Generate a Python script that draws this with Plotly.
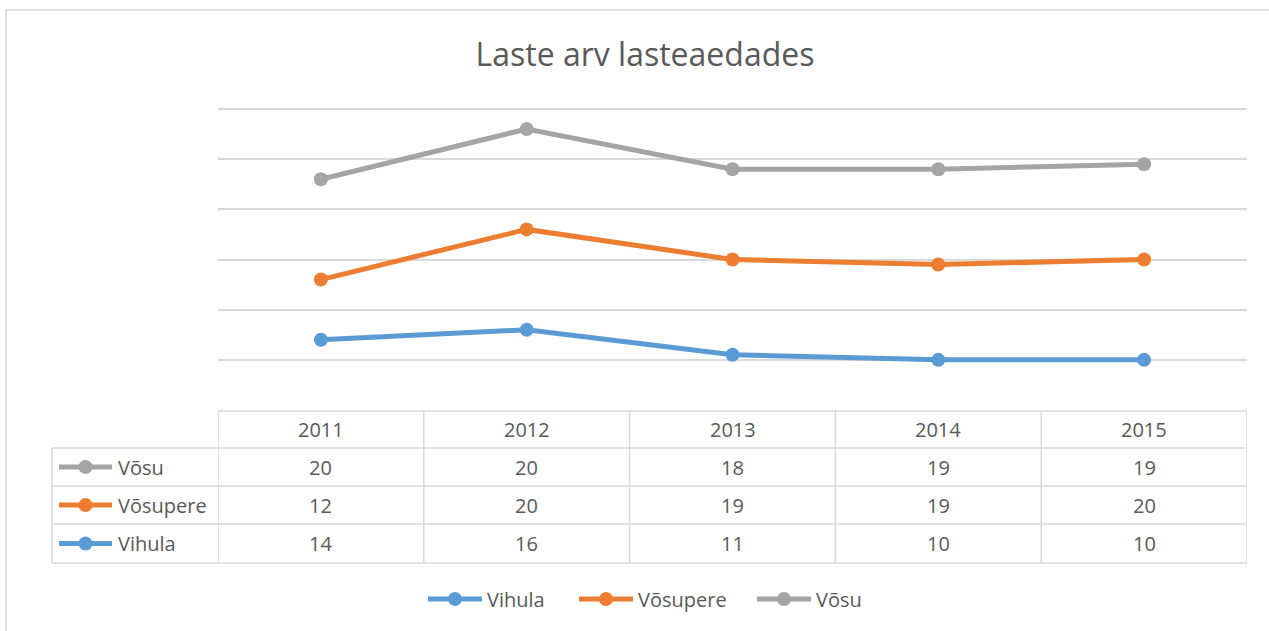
import numpy as np
import plotly.graph_objects as go

# ---- data ----
years = ["2011", "2012", "2013", "2014", "2015"]
vihula = [14, 16, 11, 10, 10]
vosupere = [12, 20, 19, 19, 20]
vosu = [20, 20, 18, 19, 19]
series_names = ["Vihula", "Võsupere", "Võsu"]
series_values = [vihula, vosupere, vosu]
series_colors = ["#5B9BD5", "#ED7D31", "#A5A5A5"]
title_text = "Laste arv lasteaedades"

W, H = 1269, 631
# plot area in pixels
PL, PR, PT, PB = 218, 1247, 106, 410
YMAX = 60.6
L, T = PL, PT
PW = PR - PL
PH = PB - PT
R = W - L - PW
B = H - T - PH
TXT = "#595959"
GRID = "#D9D9D9"
FONT = "Open Sans"
LW = 5


def px(x):
    return (x - PL) / PW


def py(y):
    return (PB - y) / PH


fig = go.Figure()
for name, vals, col in zip(series_names, series_values, series_colors):
    fig.add_trace(go.Scatter(
        x=years, y=vals, name=name, mode="lines+markers",
        stackgroup="one", fill="none",
        line=dict(color=col, width=LW),
        marker=dict(color=col, size=14),
        showlegend=False,
    ))

shapes = []
annotations = []

# table geometry (pixels)
row_edges = [411, 448, 486, 524, 563]
left_x = 52
shapes.append(dict(type="line", xref="paper", yref="paper", x0=px(PL), x1=1.0,
                   y0=py(row_edges[0]), y1=py(row_edges[0]), line=dict(color=GRID, width=1.5)))
for ye in row_edges[1:]:
    shapes.append(dict(type="line", xref="paper", yref="paper", x0=px(left_x), x1=1.0,
                       y0=py(ye), y1=py(ye), line=dict(color=GRID, width=1.5)))
shapes.append(dict(type="line", xref="paper", yref="paper", x0=px(left_x), x1=px(left_x),
                   y0=py(row_edges[1]), y1=py(row_edges[-1]), line=dict(color=GRID, width=1.5)))
for i in range(len(years) + 1):
    xb = i - 0.5
    shapes.append(dict(type="line", xref="x", yref="paper", x0=xb, x1=xb,
                       y0=py(row_edges[0]), y1=py(row_edges[-1]), line=dict(color=GRID, width=1.5)))

# header
for i, yr in enumerate(years):
    annotations.append(dict(x=i, xref="x", y=py((row_edges[0] + row_edges[1]) / 2), yref="paper",
                            text=yr, showarrow=False, font=dict(family=FONT, size=20, color=TXT),
                            xanchor="center", yanchor="middle"))

# table rows: Võsu, Võsupere, Vihula (top to bottom)
table_order = [2, 1, 0]
for r, si in enumerate(table_order):
    yc = (row_edges[r + 1] + row_edges[r + 2]) / 2
    col = series_colors[si]
    shapes.append(dict(type="line", xref="paper", yref="paper", x0=px(59), x1=px(112),
                       y0=py(yc), y1=py(yc), line=dict(color=col, width=LW)))
    shapes.append(dict(type="circle", xref="paper", yref="paper", x0=px(78.5), x1=px(92.5),
                       y0=py(yc - 7), y1=py(yc + 7), fillcolor=col, line=dict(color=col, width=0)))
    annotations.append(dict(x=px(116), xref="paper", y=py(yc), yref="paper",
                            text=series_names[si], showarrow=False,
                            font=dict(family=FONT, size=20, color=TXT),
                            xanchor="left", yanchor="middle"))
    for i, v in enumerate(series_values[si]):
        annotations.append(dict(x=i, xref="x", y=py(yc), yref="paper", text=str(v),
                                showarrow=False, font=dict(family=FONT, size=20, color=TXT),
                                xanchor="center", yanchor="middle"))

# bottom legend
leg_y = 599
leg_items = [(0, 428), (1, 579), (2, 757)]
for si, x0 in leg_items:
    col = series_colors[si]
    shapes.append(dict(type="line", xref="paper", yref="paper", x0=px(x0), x1=px(x0 + 54),
                       y0=py(leg_y), y1=py(leg_y), line=dict(color=col, width=LW)))
    shapes.append(dict(type="circle", xref="paper", yref="paper", x0=px(x0 + 20), x1=px(x0 + 34),
                       y0=py(leg_y - 7), y1=py(leg_y + 7), fillcolor=col, line=dict(color=col, width=0)))
    annotations.append(dict(x=px(x0 + 57), xref="paper", y=py(leg_y), yref="paper",
                            text=series_names[si], showarrow=False,
                            font=dict(family=FONT, size=20, color=TXT),
                            xanchor="left", yanchor="middle"))

# outer chart border
shapes.append(dict(type="rect", xref="paper", yref="paper", x0=px(6), x1=px(1300),
                   y0=py(10), y1=py(660), line=dict(color=GRID, width=1.5), layer="below"))

fig.update_layout(
    width=W, height=H,
    margin=dict(l=L, r=R, t=T, b=B),
    paper_bgcolor="white", plot_bgcolor="white",
    title=dict(text=title_text, x=645 / W, xref="container", xanchor="center",
               y=1 - 55 / H, yref="container", yanchor="middle",
               font=dict(family=FONT, size=32, color=TXT)),
    xaxis=dict(type="category", range=[-0.5, len(years) - 0.5], showgrid=False,
               showticklabels=False, showline=False, zeroline=False, ticks=""),
    yaxis=dict(range=[0, YMAX], tickvals=[10, 20, 30, 40, 50, 60], showgrid=True,
               gridcolor=GRID, gridwidth=1.5,
               showticklabels=False, showline=False, zeroline=False, ticks=""),
    shapes=shapes,
    annotations=annotations,
    showlegend=False,
)

fig.write_html("out.html",
               config={"displayModeBar": False},
               post_script="document.body.style.margin='0px';document.body.style.overflow='hidden';")
